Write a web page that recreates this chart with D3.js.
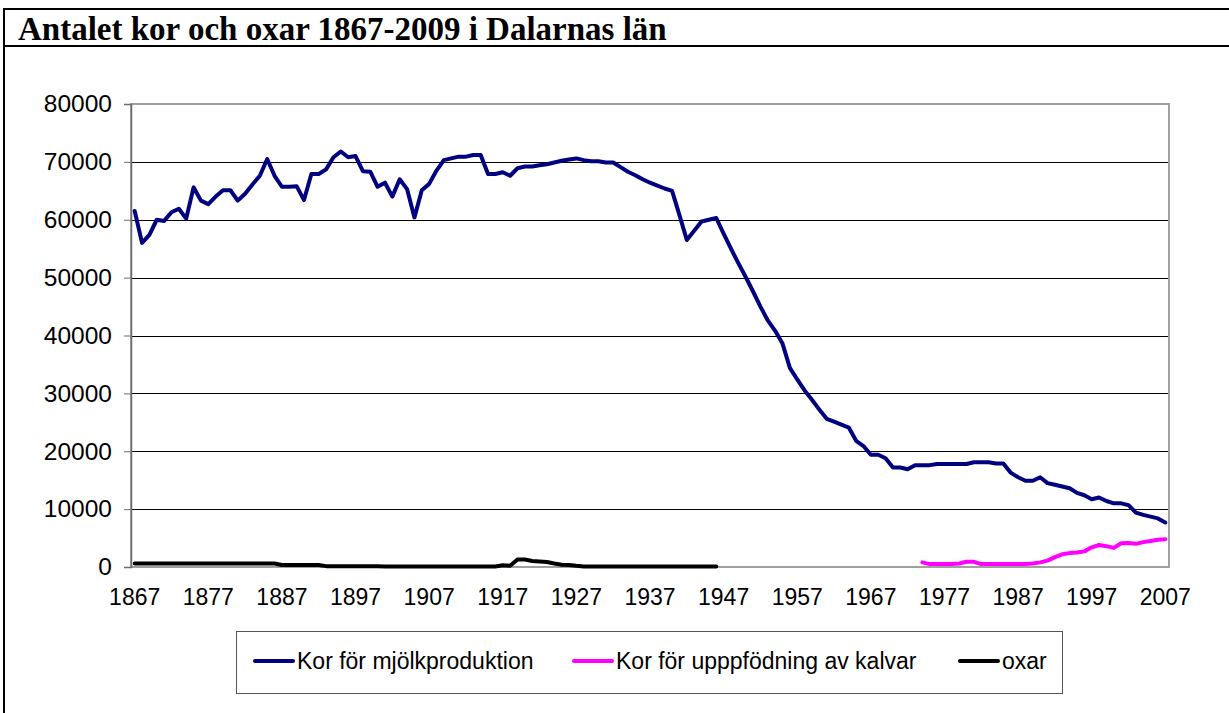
<!DOCTYPE html>
<html>
<head>
<meta charset="utf-8">
<script src="https://cdn.jsdelivr.net/npm/d3@7/dist/d3.min.js"></script>
<style>
  body { margin: 0; background: #fff; }
  svg { display: block; }
</style>
</head>
<body>
<div class="chart"></div>
<script>
// Antalet kor och oxar - line chart

// categories and tick labels
var years = d3.range(1867, 2008);
var tickYears = [1867, 1877, 1887, 1897, 1907, 1917, 1927, 1937, 1947, 1957, 1967, 1977, 1987, 1997, 2007];
var yTicks = [0, 10000, 20000, 30000, 40000, 50000, 60000, 70000, 80000];

var seriesLabels = ["Kor för mjölkproduktion", "Kor för upppfödning av kalvar", "oxar"];
var seriesColors = ["#000080", "#ff00ff", "#000000"];

// Kor för mjölkproduktion, 1867-2007
var milkStart = 1867;
var milkCows = [
  61500, 56000, 57400, 60000, 59800, 61300, 61900, 60200, 65600, 63300,
  62700, 64000, 65100, 65100, 63300, 64500, 66100, 67600, 70500, 67600,
  65700, 65700, 65800, 63400, 67900, 67900, 68700, 70800, 71800, 70800,
  71000, 68400, 68300, 65700, 66400, 64000, 67000, 65300, 60400, 65100,
  66200, 68500, 70300, 70600, 70900, 70900, 71200, 71200, 67900, 67900,
  68200, 67600, 68900, 69200, 69200, 69400, 69600, 69900, 70200, 70400,
  70600, 70300, 70100, 70100, 69900, 69900, 69100, 68300, 67700, 67000,
  66400, 65900, 65400, 65000, 60800, 56500, 58100, 59700, 60000, 60300,
  57600, 55000, 52500, 50100, 47600, 45000, 42600, 40800, 38600, 34400,
  32400, 30500, 28900, 27200, 25600, 25100, 24600, 24100, 21800, 20900,
  19400, 19400, 18800, 17200, 17200, 16900, 17600, 17600, 17600, 17800,
  17800, 17800, 17800, 17800, 18100, 18100, 18100, 17900, 17900, 16300,
  15500, 14900, 14900, 15500, 14500, 14200, 13900, 13600, 12800, 12400,
  11700, 12000, 11400, 11000, 11000, 10700, 9400, 9000, 8700, 8400,
  7700
];

// Kor för uppfödning av kalvar, 1974-2007
var calfStart = 1974;
var calfCows = [
  800, 500, 500, 500, 500, 600, 900, 900, 500, 500,
  500, 500, 500, 500, 500, 600, 800, 1100, 1700, 2200,
  2400, 2500, 2700, 3400, 3800, 3600, 3300, 4100, 4150, 4000,
  4300, 4500, 4700, 4800
];

// oxar, 1867-1946
var oxenStart = 1867;
var oxen = [
  600, 600, 600, 600, 600, 600, 600, 600, 600, 600,
  600, 600, 600, 600, 600, 600, 600, 600, 600, 600,
  350, 350, 350, 350, 350, 350, 150, 150, 150, 150,
  150, 150, 150, 150, 100, 100, 100, 100, 100, 100,
  100, 100, 100, 100, 100, 100, 100, 100, 100, 100,
  300, 200, 1300, 1300, 1050, 950, 850, 600, 400, 350,
  200, 100, 100, 100, 100, 100, 100, 100, 100, 100,
  100, 100, 100, 100, 100, 100, 100, 100, 100, 100
];

function toPoints(start, values) {
  return values.map(function(v, i) { return {year: start + i, value: v}; });
}

var series = [
  toPoints(milkStart, milkCows),
  toPoints(calfStart, calfCows),
  toPoints(oxenStart, oxen)
];

// dimensions of the page and plot area
var W = 1229, H = 713;
var plot = {left: 131, right: 1169, top: 104, bottom: 567};

var svg = d3.select(".chart")
  .append("svg")
    .attr("width", W)
    .attr("height", H);

svg.append("rect").attr("width", W).attr("height", H).attr("fill", "#fff");

// outer frame and title band
svg.append("line").attr("x1", 3).attr("x2", W).attr("y1", 9).attr("y2", 9)
  .attr("stroke", "#000").attr("stroke-width", 2);
svg.append("line").attr("x1", 3).attr("x2", W).attr("y1", 46).attr("y2", 46)
  .attr("stroke", "#000").attr("stroke-width", 2);
svg.append("line").attr("x1", 4).attr("x2", 4).attr("y1", 8).attr("y2", H)
  .attr("stroke", "#000").attr("stroke-width", 2);

svg.append("text")
  .attr("x", 18)
  .attr("y", 40)
  .style("font-family", "'Liberation Serif', 'Times New Roman', serif")
  .style("font-weight", "bold")
  .style("font-size", "33px")
  .text("Antalet kor och oxar 1867-2009 i Dalarnas län");

// scales
var x = d3.scaleBand()
  .domain(years)
  .range([plot.left, plot.right])
  .padding(0);

var y = d3.scaleLinear()
  .domain([0, 80000])
  .range([plot.bottom, plot.top]);

function xc(year) { return x(year) + x.bandwidth() / 2; }

// gridlines
svg.append("g")
  .selectAll("line")
  .data(yTicks.filter(function(t) { return t > 0 && t < 80000; }))
  .enter().append("line")
    .attr("x1", plot.left)
    .attr("x2", plot.right)
    .attr("y1", function(d) { return Math.round(y(d)) + 0.5; })
    .attr("y2", function(d) { return Math.round(y(d)) + 0.5; })
    .attr("stroke", "#000")
    .attr("stroke-width", 1);

// plot area border
svg.append("rect")
  .attr("x", plot.left)
  .attr("y", plot.top)
  .attr("width", plot.right - plot.left)
  .attr("height", plot.bottom - plot.top)
  .attr("fill", "none")
  .attr("stroke", "#a0a0a0")
  .attr("stroke-width", 2);

// Y axis
var yAxis = svg.append("g")
  .attr("transform", "translate(" + plot.left + ",0)")
  .call(d3.axisLeft(y).tickValues(yTicks).tickSize(7).tickPadding(12).tickFormat(d3.format("d")));
yAxis.select(".domain").attr("stroke", "#6e6e6e").attr("stroke-width", 1.5);
yAxis.selectAll(".tick line").attr("stroke", "#6e6e6e");
yAxis.selectAll("text")
  .attr("fill", "#000")
  .style("font-family", "'Liberation Sans', Arial, sans-serif")
  .style("font-size", "24.5px");

// X axis labels
var xAxis = svg.append("g")
  .attr("transform", "translate(0," + plot.bottom + ")")
  .call(d3.axisBottom(x).tickValues(tickYears).tickSize(0).tickPadding(22));
xAxis.select(".domain").remove();
xAxis.selectAll("text")
  .attr("fill", "#000")
  .style("font-family", "'Liberation Sans', Arial, sans-serif")
  .style("font-size", "23px");

// lines
var line = d3.line()
  .x(function(d) { return xc(d.year); })
  .y(function(d) { return y(d.value); });

svg.append("g")
  .selectAll("path")
  .data(series)
  .enter().append("path")
    .attr("d", line)
    .attr("fill", "none")
    .attr("stroke", function(d, i) { return seriesColors[i]; })
    .attr("stroke-width", 4)
    .attr("stroke-linejoin", "round")
    .attr("stroke-linecap", "round");

// legend
var legend = svg.append("g");
legend.append("rect")
  .attr("x", 236.5)
  .attr("y", 631.5)
  .attr("width", 826)
  .attr("height", 62)
  .attr("fill", "#fff")
  .attr("stroke", "#555")
  .attr("stroke-width", 1);

var legendX = [255, 574, 960];
var items = legend.selectAll(".item")
  .data(seriesLabels)
  .enter().append("g")
    .attr("class", "item")
    .attr("transform", function(d, i) { return "translate(" + legendX[i] + ",661)"; });

items.append("line")
  .attr("x1", 0).attr("x2", 38)
  .attr("y1", 0).attr("y2", 0)
  .attr("stroke", function(d, i) { return seriesColors[i]; })
  .attr("stroke-width", 4)
  .attr("stroke-linecap", "round");

items.append("text")
  .attr("x", 42)
  .attr("y", 0)
  .attr("dy", "0.35em")
  .style("font-family", "'Liberation Sans', Arial, sans-serif")
  .style("font-size", "23px")
  .text(function(d) { return d; });
</script>
</body>
</html>
